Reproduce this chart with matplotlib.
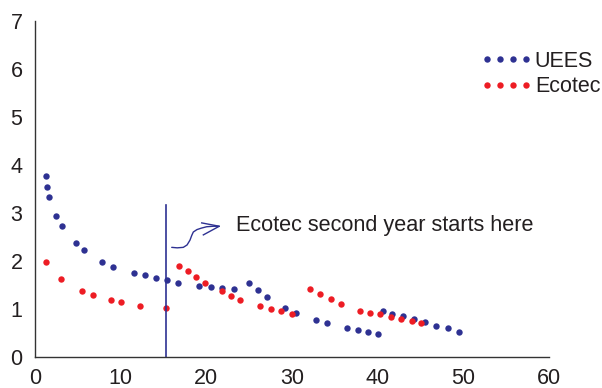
import numpy as np
import matplotlib.pyplot as plt

plt.rcParams['font.family'] = ['Liberation Sans', 'DejaVu Sans']

# UEES series
uees_x = [1.25, 1.44, 1.63, 2.49, 3.19, 4.79, 5.72, 7.82, 9.07, 11.56, 12.84, 14.12,
          15.37, 16.73, 19.18, 20.51, 21.86, 23.19, 25.01, 26.07, 27.12, 29.22, 30.43,
          32.84, 34.08, 36.45, 37.67, 38.91, 40.07, 40.62, 41.64, 42.96, 44.24, 45.52,
          46.84, 48.17, 49.46]
uees_y = [3.76, 3.54, 3.32, 2.93, 2.73, 2.38, 2.22, 1.97, 1.88, 1.75, 1.70, 1.65,
          1.59, 1.54, 1.48, 1.45, 1.43, 1.41, 1.54, 1.40, 1.25, 1.02, 0.92,
          0.76, 0.70, 0.59, 0.55, 0.51, 0.47, 0.96, 0.90, 0.84, 0.78, 0.72,
          0.65, 0.59, 0.52]

# Ecotec series
ecotec_x = [1.28, 3.07, 5.52, 6.74, 8.91, 10.00, 12.29, 15.33, 16.81, 17.82, 18.83,
            19.84, 21.80, 22.88, 23.96, 26.23, 27.51, 28.75, 29.96, 32.10, 33.30,
            34.52, 35.68, 37.94, 39.14, 40.31, 41.52, 42.76, 43.97, 45.02]
ecotec_y = [1.97, 1.61, 1.38, 1.29, 1.18, 1.15, 1.06, 1.01, 1.90, 1.78, 1.66,
            1.54, 1.36, 1.27, 1.19, 1.06, 1.00, 0.95, 0.89, 1.42, 1.31,
            1.20, 1.10, 0.96, 0.92, 0.88, 0.83, 0.79, 0.75, 0.71]

second_year_x = 15.3
second_year_top = 3.16

blue = '#2e3192'
red = '#ed1c24'

fig = plt.figure(figsize=(6.02, 3.88), dpi=100)
ax = fig.add_axes([35 / 602, 1 - 356.7 / 388, 514 / 602, 335.7 / 388])

ax.plot(uees_x, uees_y, 'o', color=blue, markersize=4.6, markeredgewidth=0, label='UEES')
ax.plot(ecotec_x, ecotec_y, 'o', color=red, markersize=4.6, markeredgewidth=0, label='Ecotec')

# ligne verticale : début de la deuxième année Ecotec
ax.plot([second_year_x, second_year_x], [0, second_year_top], color=blue, lw=1.2)

# flèche ondulée
sq_x = [15.96, 16.6, 17.31, 17.75, 18.09, 18.3, 18.48, 18.9, 19.4, 20.04, 20.8, 21.51]
sq_y = [2.28, 2.27, 2.28, 2.33, 2.43, 2.53, 2.60, 2.65, 2.68, 2.71, 2.72, 2.72]
ax.plot(sq_x, sq_y, color=blue, lw=1.0, solid_capstyle='round')
ax.plot([19.46, 21.51, 19.65], [2.79, 2.72, 2.54], color=blue, lw=1.0)

ax.text(23.5, 2.73, 'Ecotec second year starts here', fontsize=15.6, color='#231f20',
        va='center', ha='left')

ax.set_xlim(0, 60)
ax.set_ylim(0, 7)
ax.set_xticks(np.arange(0, 61, 10))
ax.set_yticks(np.arange(0, 8, 1))
ax.tick_params(length=0, labelsize=15.5, labelcolor='#231f20')
ax.tick_params(axis='y', pad=9)
ax.tick_params(axis='x', pad=8)
for s in ['top', 'right']:
    ax.spines[s].set_visible(False)
for s in ['left', 'bottom']:
    ax.spines[s].set_color('#333333')
    ax.spines[s].set_linewidth(1.0)

leg = ax.legend(loc='upper left', bbox_to_anchor=(481 / 602, 1 - 51 / 388),
                bbox_transform=fig.transFigure, frameon=False, numpoints=4,
                fontsize=15.5, handlelength=2.4, handletextpad=0.1, labelspacing=0.2,
                borderaxespad=0, borderpad=0)
for t in leg.get_texts():
    t.set_color('#231f20')

fig.savefig('out.png', dpi=100)
